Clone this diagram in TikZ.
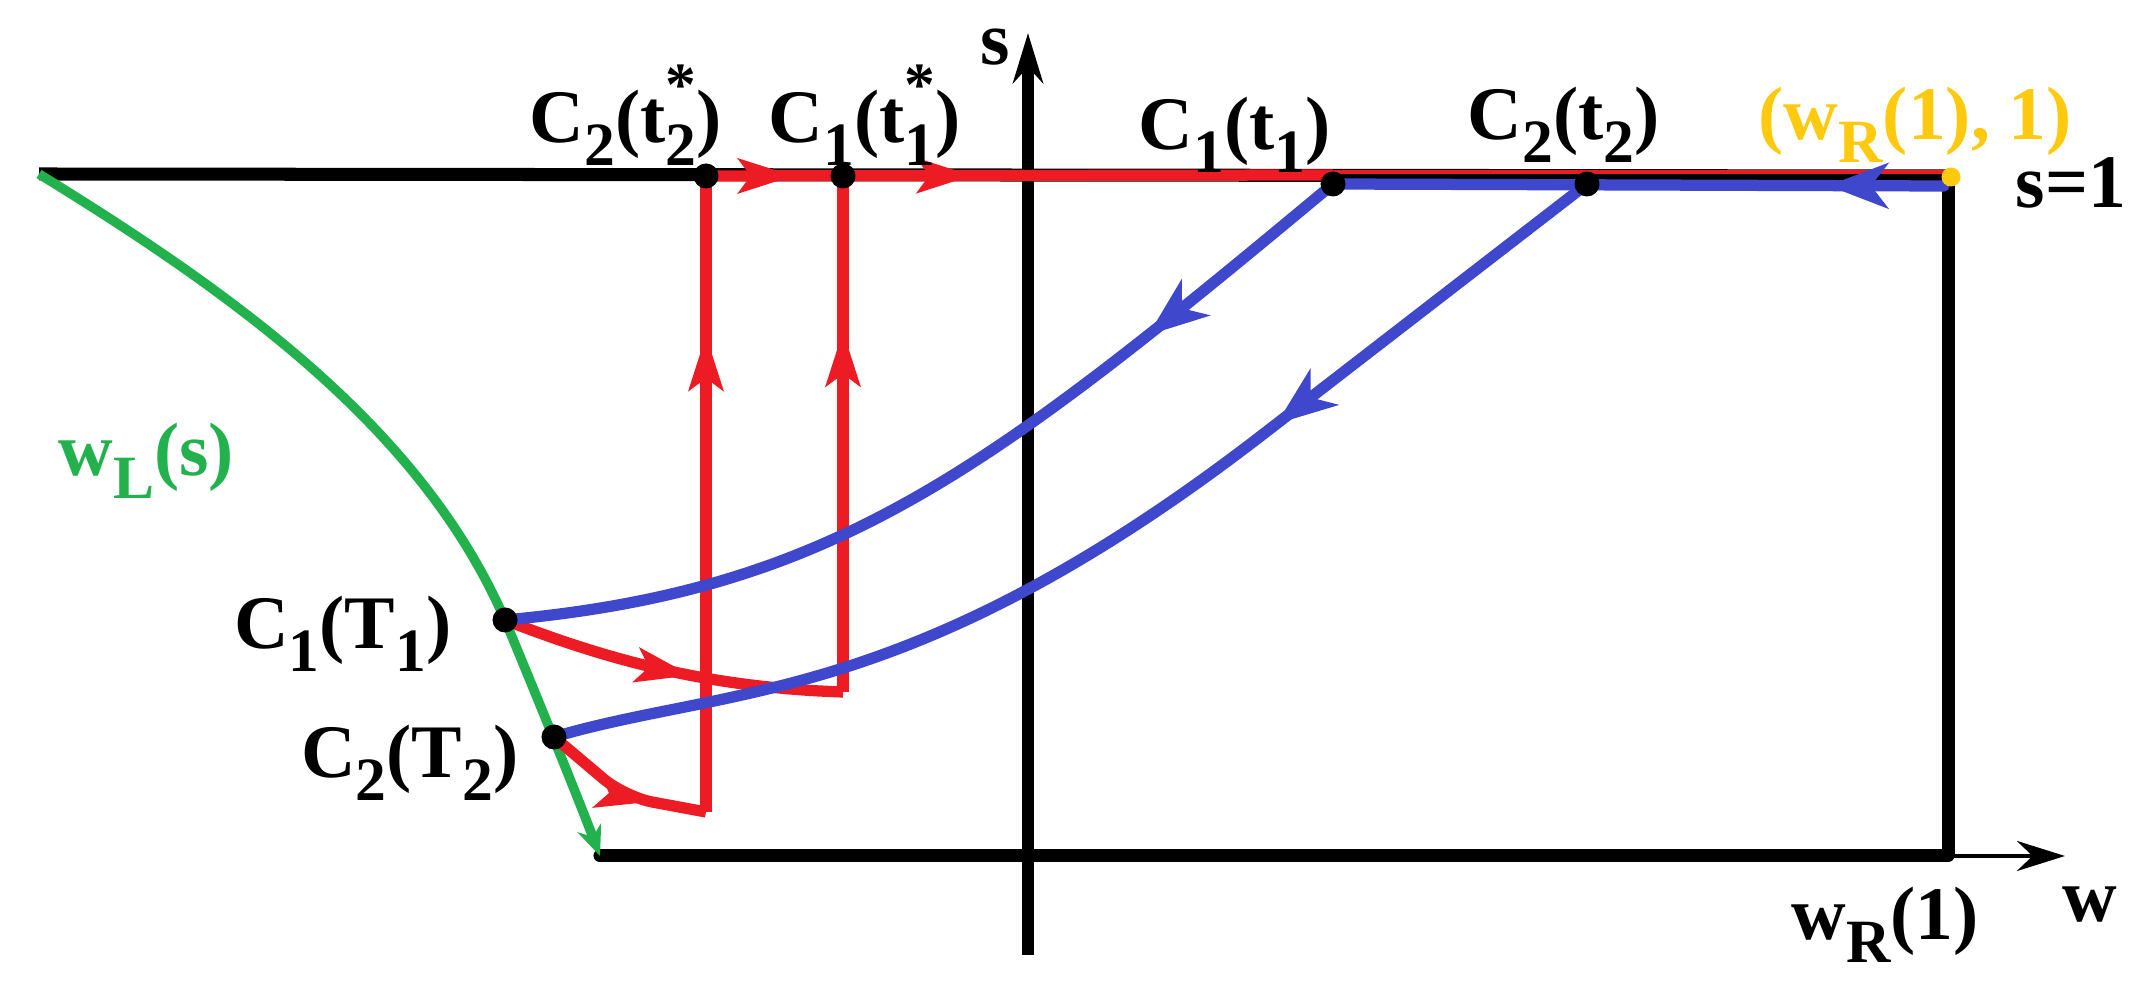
\documentclass[tikz,border=0pt]{standalone}
\usepackage{fontspec}
\setmainfont{Liberation Serif}
\usetikzlibrary{arrows.meta,decorations.markings}
\definecolor{pred}{HTML}{ED1C24}
\definecolor{pblue}{HTML}{3F48CC}
\definecolor{pgreen}{HTML}{22B14C}
\definecolor{pyellow}{HTML}{FFC90E}
\newcommand\lsb[1]{\raisebox{-0.3em}{\fontsize{17.5}{17.5}\selectfont #1}}
\newcommand\lsbsp[2]{\rlap{\raisebox{0.5em}{\fontsize{17.5}{17.5}\selectfont #1}}\raisebox{-0.3em}{\fontsize{17.5}{17.5}\selectfont #2}}
\tikzset{
  blk/.style={line width=3.7pt, black},
  redl/.style={line width=3.2pt, pred},
  bluel/.style={line width=3.2pt, pblue},
  grnl/.style={line width=2.7pt, pgreen},
  dotn/.style={circle, fill=black, inner sep=0pt, minimum size=0.25cm},
  lab/.style={font=\fontsize{21.5}{25}\selectfont\bfseries, inner sep=0pt},
  rtip/.tip={Stealth[length=0.55cm,width=0.34cm,inset=0.12cm]},
  btip/.tip={Stealth[length=0.6cm,width=0.45cm,inset=0.17cm]},
  ma/.style 2 args={postaction={decorate}, decoration={markings, mark=at position #1 with {\arrow{#2}}}},
  mtwo/.style={postaction={decorate}, decoration={markings,
     mark=at position 0.14 with {\arrow{rtip}},
     mark=at position 0.425 with {\arrow{rtip}}}},
}
\begin{document}
\begin{tikzpicture}[x=0.01cm, y=-0.01cm]
\useasboundingbox (0,0) rectangle (2153,983);
% coordinates
\coordinate (TL) at (39,174);
\coordinate (TR) at (1948,176);
\coordinate (RT) at (1948,184);
\coordinate (RB) at (1948,856);
\coordinate (BL) at (600,856);
\coordinate (WE) at (2065,856);
\coordinate (SB) at (1028,955);
\coordinate (ST) at (1028,33);
\coordinate (C2ts) at (706,176);
\coordinate (C1ts) at (843,176);
\coordinate (C1t) at (1333,184);
\coordinate (C2t) at (1587,184);
\coordinate (C1T) at (505,620);
\coordinate (C2T) at (554,737);
\coordinate (R1B) at (843,692);
\coordinate (R2B) at (706,812);
\coordinate (R2K) at (625,797);
\coordinate (RE) at (1333,175);
\coordinate (TRr) at (1950,172);
\coordinate (C1tr) at (1333,172);
\coordinate (TRb) at (1944,186);
\coordinate (YD) at (1951,177);
\coordinate (B2K) at (1266,432);
% black frame and axes
\draw[blk] (TL) -- (TR);
\draw[blk] (RT) -- (RB);
\draw[blk, line cap=round] (BL) -- (RB);
\draw[line width=1.4pt, -{Stealth[length=0.48cm,width=0.3cm]}] (RB) -- (WE);
\draw[line width=3.5pt, -{Stealth[length=0.5cm,width=0.3cm]}] (SB) -- (ST);
% green boundary
\draw[grnl, -{Stealth[length=0.3cm,width=0.25cm]}] (TL) .. controls (251,304) and (425,436) .. (C1T) .. controls (530,680) and (575,790) .. (BL);
% red paths
\draw[redl] (C1t) -- (RE);
\draw[redl, mtwo] (C2ts) -- (RE);
\draw[pred, line width=1.4pt] (C1tr) -- (TRr);
\draw[redl, ma={0.56}{rtip}] (C1T) .. controls (620,665) and (720,688) .. (R1B);
\draw[redl, ma={0.70}{rtip}] (R1B) -- (C1ts);
\draw[redl, rounded corners=8pt, ma={0.68}{rtip}] (C2T) -- (R2K) -- (R2B);
\draw[redl, ma={0.75}{rtip}] (R2B) -- (C2ts);
% blue paths
\draw[bluel, line cap=round, ma={0.19}{btip}] (TRb) -- (C1t);
\draw[bluel, ma={0.25}{btip}] (C1t) .. controls (987,472) and (835,590) .. (C1T);
\draw[bluel, ma={0.33}{btip}] (C2t) -- (B2K) .. controls (911,707) and (730,685) .. (C2T);
% dots
\node[dotn] (dC2ts) at (C2ts) {};
\node[dotn] (dC1ts) at (C1ts) {};
\node[dotn] (dC1t) at (C1t) {};
\node[dotn] (dC2t) at (C2t) {};
\node[dotn] (dC1T) at (C1T) {};
\node[dotn] (dC2T) at (C2T) {};
\node[circle, fill=pyellow, inner sep=0pt, minimum size=0.19cm] (dY) at (YD) {};
% labels
\node[lab, anchor=base] (ls) at (995,65) {s};
\node[lab, anchor=base west] (lC2ts) at (529,143) {C\lsb{2}(t\lsbsp{*}{2})};
\node[lab, anchor=base west] (lC1ts) at (768,143) {C\lsb{1}(t\lsbsp{*}{1})};
\node[lab, anchor=base west] (lC1t) at (1138,150) {C\lsb{1}(t\lsb{1})};
\node[lab, anchor=base west] (lC2t) at (1467,140) {C\lsb{2}(t\lsb{2})};
\node[lab, anchor=base west, text=pyellow] (lY) at (1758,140) {(w\lsb{R}(1), 1)};
\node[lab, anchor=base west] (ls1) at (2015,208) {s=1};
\node[lab, anchor=base west, text=pgreen] (lwL) at (58,476) {w\lsb{L}(s)};
\node[lab, anchor=base east] (lC1T) at (452,649) {C\lsb{1}(T\lsb{1})};
\node[lab, anchor=base east] (lC2T) at (519,778) {C\lsb{2}(T\lsb{2})};
\node[lab, anchor=base west] (lwR) at (1791,940) {w\lsb{R}(1)};
\node[lab, anchor=base west] (lw) at (2062,922) {w};
\end{tikzpicture}
\end{document}
